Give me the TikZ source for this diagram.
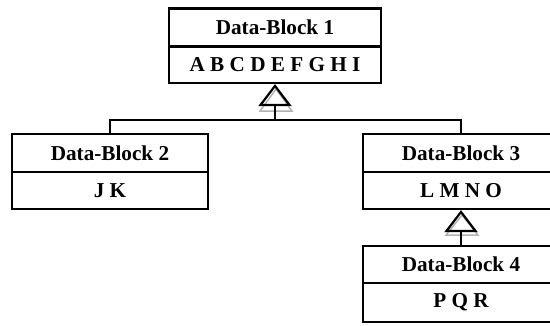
\documentclass[tikz,border=0pt]{standalone}
\usepackage{fontspec}
\setmainfont{Liberation Serif}
\usetikzlibrary{arrows.meta}
\begin{document}
\begin{tikzpicture}[x=1pt,y=-1pt,
  cell/.style={draw, line width=2.2pt, inner sep=0pt, anchor=center,
    font=\fontsize{21.2}{23}\selectfont\bfseries},
  gen/.style={line width=1.5pt,
    -{Triangle[open, length=22pt, width=33pt, line width=2.2pt]}},
  ghost/.style={draw=black!30, line width=1.4pt}]
\useasboundingbox (0,0) rectangle (550,325);
\fill[white] (0,0) rectangle (550,325);
\begin{scope}
\clip (0,0) rectangle (550,325);
% Data-Block 1
\node[cell, minimum width=212pt, minimum height=38pt] (b1h) at (275,27.5) {Data-Block 1};
\node[cell, minimum width=212pt, minimum height=36pt] (b1b) at (275,65) {A B C D E F G H I};
% Data-Block 2
\node[cell, minimum width=196pt, minimum height=38pt] (b2h) at (110,153) {Data-Block 2};
\node[cell, minimum width=196pt, minimum height=37pt] (b2b) at (110,190.5) {J K};
% Data-Block 3
\node[cell, minimum width=196pt, minimum height=38pt] (b3h) at (461,153) {Data-Block 3};
\node[cell, minimum width=196pt, minimum height=37pt] (b3b) at (461,190.5) {L M N O};
% Data-Block 4
\node[cell, minimum width=196pt, minimum height=37pt] (b4h) at (461,264.5) {Data-Block 4};
\node[cell, minimum width=196pt, minimum height=39pt] (b4b) at (461,302.5) {P Q R};
\end{scope}
% faint shadow of the generalisation triangles
\draw[ghost] ([xshift=1pt,yshift=-5pt]b1b.south) -- ++(16,22) -- ++(-32,0) -- cycle;
\draw[ghost] ([xshift=1pt,yshift=-5pt]b3b.south) -- ++(16,20) -- ++(-32,0) -- cycle;
% generalisation connectors
\coordinate (j) at (b1b.south |- 0,120);
\draw[line width=1.5pt] (b2h.north) |- (j) -| (b3h.north);
\draw[gen] (j) -- (b1b.south);
\draw[gen] (b4h.north) -- (b3b.south);
\end{tikzpicture}
\end{document}
